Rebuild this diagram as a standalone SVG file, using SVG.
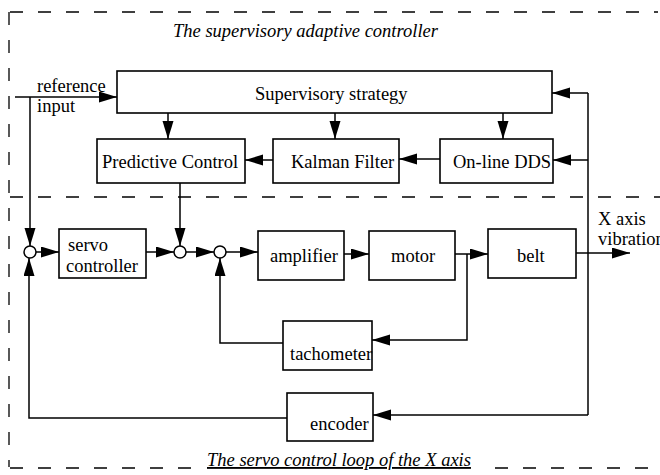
<svg xmlns="http://www.w3.org/2000/svg" width="660" height="475" viewBox="0 0 660 475">
<style>
.box{fill:#fff;stroke:#000;stroke-width:1.6}
.t{font-family:"Liberation Serif","Times New Roman","DejaVu Serif",serif;font-size:18.5px;fill:#000}
.ti{font-family:"Liberation Serif","Times New Roman","DejaVu Serif",serif;font-size:18.5px;font-style:italic;fill:#000}
.c{fill:none;stroke:#000;stroke-width:1.5}
.a{fill:none;stroke:#000;stroke-width:1.5;marker-end:url(#ah)}
.d{fill:none;stroke:#000;stroke-width:1.3;stroke-dasharray:13 15}
.j{fill:#fff;stroke:#000;stroke-width:1.5}
</style>
<defs>
<marker id="ah" markerUnits="userSpaceOnUse" markerWidth="19" markerHeight="12" refX="18" refY="5.5" orient="auto">
<path d="M0,0 L18,5.5 L0,11 z" fill="#000"/>
</marker>
</defs>
<rect width="660" height="475" fill="#fff"/>
<g id="frame">
<path class="d" d="M10,12 H658"/>
<path class="d" d="M9,12 V467"/>
<path class="d" d="M10,197 H660"/>
<path class="d" d="M10,468 H198"/>
<path class="d" d="M495,468 H652"/>
<text class="ti" x="173" y="37">The supervisory adaptive controller</text>
<text class="ti" x="207" y="466" text-decoration="underline">The servo control loop of the X axis</text>
</g>
<g id="connectors">
<path class="a" d="M15,97 H117"/>
<path class="a" d="M30,97 V246"/>
<path class="a" d="M168,113 V139"/>
<path class="a" d="M335,113 V139"/>
<path class="a" d="M503,113 V139"/>
<path class="a" d="M273,160 H245"/>
<path class="a" d="M440,159 H399"/>
<path class="c" d="M588,93 V415"/>
<path class="a" d="M588,93 H552"/>
<path class="a" d="M588,160 H553"/>
<path class="a" d="M180,183 V246"/>
<path class="a" d="M36,252 H59"/>
<path class="a" d="M146,252 H174"/>
<path class="a" d="M186,252 H214"/>
<path class="a" d="M226,252 H258"/>
<path class="a" d="M344,254 H369"/>
<path class="a" d="M455,254 H488"/>
<path class="a" d="M467,254 V340 H372"/>
<path class="a" d="M283,343 H220 V258"/>
<path class="a" d="M576,253 H630"/>
<path class="a" d="M588,415 H373"/>
<path class="a" d="M287,418 H29 V258"/>
</g>
<g id="sum1"><circle class="j" cx="30" cy="252" r="6"/></g>
<g id="sum2"><circle class="j" cx="180" cy="252" r="6"/></g>
<g id="sum3"><circle class="j" cx="220" cy="252" r="6"/></g>
<g id="reference-input">
<text class="t" x="37" y="92">reference</text>
<text class="t" x="37" y="112">input</text>
</g>
<g id="supervisory-strategy">
<rect class="box" x="117" y="71" width="435" height="42"/>
<text class="t" x="255" y="100">Supervisory strategy</text>
</g>
<g id="predictive-control">
<rect class="box" x="97" y="139" width="148" height="44"/>
<text class="t" x="102" y="168">Predictive Control</text>
</g>
<g id="kalman-filter">
<rect class="box" x="273" y="139" width="126" height="44"/>
<text class="t" x="291" y="168">Kalman Filter</text>
</g>
<g id="online-dds">
<rect class="box" x="440" y="139" width="113" height="44"/>
<text class="t" x="453" y="168">On-line DDS</text>
</g>
<g id="servo-controller">
<rect class="box" x="59" y="229" width="87" height="49"/>
<text class="t" x="68" y="251">servo</text>
<text class="t" x="66" y="272">controller</text>
</g>
<g id="amplifier">
<rect class="box" x="258" y="231" width="86" height="49"/>
<text class="t" x="270" y="262">amplifier</text>
</g>
<g id="motor">
<rect class="box" x="369" y="231" width="86" height="49"/>
<text class="t" x="391" y="262">motor</text>
</g>
<g id="belt">
<rect class="box" x="488" y="229" width="88" height="49"/>
<text class="t" x="517" y="262">belt</text>
</g>
<g id="tachometer">
<rect class="box" x="283" y="321" width="89" height="49"/>
<text class="t" x="290" y="360">tachometer</text>
</g>
<g id="encoder">
<rect class="box" x="287" y="393" width="86" height="48"/>
<text class="t" x="310" y="430">encoder</text>
</g>
<g id="x-axis-vibration">
<text class="t" x="598" y="225">X axis</text>
<text class="t" x="598" y="245">vibration</text>
</g>
</svg>
